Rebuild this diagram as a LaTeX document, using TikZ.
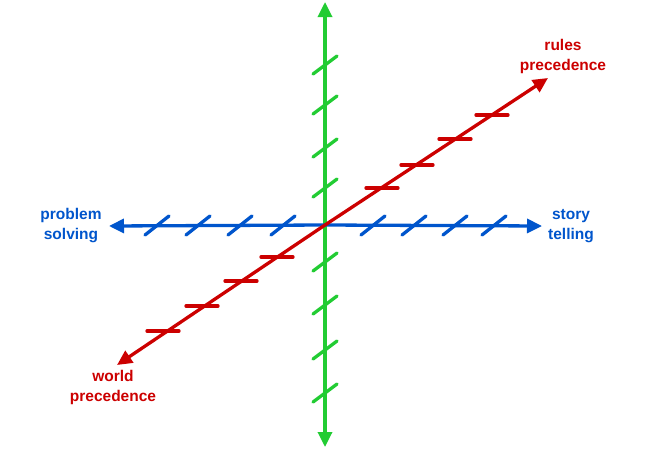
\documentclass[tikz,border=0pt]{standalone}
\usepackage{fontspec}
\setmainfont{Liberation Sans}
\usetikzlibrary{arrows.meta}
\definecolor{ggreen}{RGB}{34,204,51}
\definecolor{bblue}{RGB}{0,85,204}
\definecolor{rred}{RGB}{204,0,0}
\begin{document}
\begin{tikzpicture}[x=1pt,y=-1pt,
  axis/.style={line width=3.3pt,-{Triangle[length=15pt,width=14pt]}},
  tickmark/.style={line width=3.3pt,line cap=round},
  lbl/.style={font=\bfseries\fontsize{15.5}{20}\selectfont,align=center}]
\useasboundingbox (0,0) rectangle (650,450);
\coordinate (O) at (325,225);
% green vertical axis
\coordinate (gtop) at (325,2);
\coordinate (gbot) at (325,447);
\draw[axis,ggreen] (O) -- (gtop);
\draw[axis,ggreen] (O) -- (gbot);
\foreach \y in {65,105,148,188,262,305,350,393}
  \draw[tickmark,ggreen] (313,\y+9) -- (337,\y-9);
% blue horizontal axis
\coordinate (bl) at (109,226);
\coordinate (br) at (542,226);
\draw[axis,bblue] (O) -- (bl);
\draw[axis,bblue] (O) -- (br);
\foreach \x in {157,198,240,283,373,414,455,494}
  \draw[tickmark,bblue] (\x-12,235) -- (\x+12,216);
% red diagonal axis
\coordinate (rtop) at (548,78);
\coordinate (rbot) at (117,365);
\draw[axis,rred] (O) -- (rtop);
\draw[axis,rred] (O) -- (rbot);
\foreach \x/\y in {163/331,202/306,241/281,277/257,382/188,417/165,455/139,492/115}
  \draw[tickmark,rred] (\x-16,\y) -- (\x+16,\y);
% labels
\node[lbl,text=bblue] (ps) at (71,226) {problem\\solving};
\node[lbl,text=bblue] (st) at (571,226) {story\\telling};
\node[lbl,text=rred] (rp) at (563,56) {rules\\precedence};
\node[lbl,text=rred] (wp) at (113,387) {world\\precedence};
\end{tikzpicture}
\end{document}
